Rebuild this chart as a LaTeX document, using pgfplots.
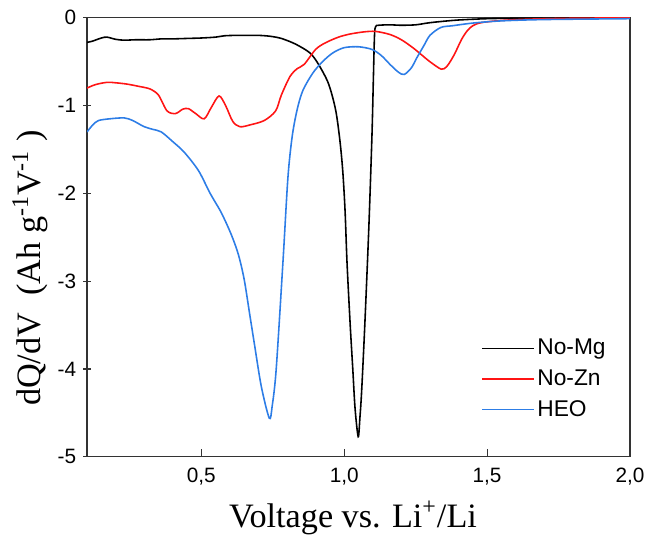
\documentclass[border=0pt]{standalone}
\usepackage{fontspec}
\setmainfont{Liberation Serif}
\newfontfamily\arialfont{Liberation Sans}
\usepackage{pgfplots}
\pgfplotsset{compat=1.18}
\definecolor{heoblue}{RGB}{45,125,230}
\definecolor{noznred}{RGB}{255,20,20}
\begin{document}
\begin{tikzpicture}
\begin{axis}[
  name=ax,
  width=274.5pt, height=222pt, scale only axis,
  xmin=0.1, xmax=2.0, ymin=-5, ymax=0,
  xtick={0.5,1.0,1.5,2.0},
  ytick={-5,-4,-3,-2,-1,0},
  tick pos=left,
  /pgf/number format/assume math mode=true,
  tick label style={font=\arialfont\fontsize{10.5}{12}\selectfont},
  xticklabel style={/pgf/number format/.cd, fixed, fixed zerofill, precision=1, use comma, /tikz/.cd, yshift=-2pt},
  yticklabel style={/pgf/number format/.cd, fixed, precision=0},
  xtick align=inside,
  ytick align=center,
  major tick length=4pt,
  tick style={black!80, line width=0.6pt},
  axis line style={black!80, line width=0.6pt},
  xlabel={Voltage vs. Li\textsuperscript{+}/Li},
  ylabel={dQ/dV\ \ (Ah g\textsuperscript{-1}V\textsuperscript{-1} )},
  label style={font=\fontsize{17.3}{20}\selectfont},
  xlabel style={at={(axis description cs:0.49,-0.16)}, anchor=base},
  ylabel style={at={(axis description cs:-0.0856,0.43)}, anchor=base},
  legend style={at={(axis description cs:0.722,0.28)}, anchor=north west, draw=none,
    font=\arialfont\fontsize{11.5}{13}\selectfont, inner sep=1pt, row sep=3pt,
    nodes={inner sep=1.5pt}},
  legend cell align=left,
  legend image code/.code={\draw[#1] (0pt,0pt) -- (26pt,0pt);},
  /tikz/every odd column/.append style={xshift=-1pt},
  /tikz/every even column/.append style={xshift=3pt},
  every axis plot/.append style={line width=0.8pt, smooth},
]
\addplot[black] coordinates {
(0.10,-0.28) (0.12,-0.265) (0.15,-0.23) (0.17,-0.22) (0.20,-0.245) (0.23,-0.255)
(0.27,-0.25) (0.32,-0.25) (0.36,-0.24) (0.40,-0.24) (0.45,-0.235) (0.50,-0.23)
(0.55,-0.22) (0.58,-0.205) (0.62,-0.20) (0.66,-0.20) (0.70,-0.20) (0.74,-0.21)
(0.78,-0.235) (0.83,-0.30) (0.88,-0.40) (0.91,-0.53) (0.945,-0.75) (0.97,-1.05)
(0.985,-1.40) (0.995,-1.75) (1.003,-2.2) (1.01,-2.8) (1.021,-3.5) (1.03,-4.0)
(1.038,-4.45) (1.049,-4.77) (1.055,-4.55) (1.061,-4.25) (1.072,-3.5) (1.086,-2.4)
(1.097,-1.35) (1.102,-0.7) (1.106,-0.2) (1.110,-0.10) (1.12,-0.085) (1.16,-0.08)
(1.20,-0.085) (1.25,-0.08) (1.29,-0.06) (1.33,-0.045) (1.40,-0.025) (1.50,-0.01)
(1.60,-0.005) (1.80,-0.002) (2.00,0)
};
\addlegendentry{No-Mg}
\addplot[noznred] coordinates {
(0.10,-0.80) (0.13,-0.76) (0.17,-0.735) (0.20,-0.74) (0.24,-0.755) (0.28,-0.78)
(0.32,-0.81) (0.35,-0.88) (0.38,-1.06) (0.41,-1.09) (0.435,-1.04) (0.455,-1.035)
(0.48,-1.09) (0.51,-1.15) (0.535,-1.02) (0.562,-0.89) (0.585,-1.0) (0.61,-1.18)
(0.635,-1.24) (0.67,-1.22) (0.72,-1.17) (0.76,-1.06) (0.78,-0.88) (0.81,-0.67)
(0.835,-0.58) (0.86,-0.53) (0.90,-0.36) (0.934,-0.285) (0.98,-0.22) (1.02,-0.185)
(1.07,-0.16) (1.11,-0.155) (1.16,-0.19) (1.20,-0.25) (1.24,-0.34) (1.27,-0.42)
(1.30,-0.50) (1.34,-0.585) (1.36,-0.55) (1.385,-0.42) (1.41,-0.25) (1.43,-0.15)
(1.45,-0.09) (1.48,-0.055) (1.55,-0.03) (1.65,-0.015) (1.80,-0.005) (2.00,0)
};
\addlegendentry{No-Zn}
\addplot[heoblue] coordinates {
(0.10,-1.30) (0.12,-1.22) (0.14,-1.17) (0.18,-1.15) (0.23,-1.14) (0.26,-1.17)
(0.30,-1.24) (0.33,-1.27) (0.36,-1.30) (0.40,-1.41) (0.44,-1.53) (0.49,-1.74)
(0.531,-2.00) (0.57,-2.22) (0.605,-2.47) (0.63,-2.70) (0.65,-2.98) (0.669,-3.37)
(0.686,-3.72) (0.71,-4.20) (0.738,-4.56) (0.748,-4.42) (0.762,-4.0) (0.786,-2.76)
(0.803,-1.82) (0.818,-1.35) (0.835,-1.05) (0.855,-0.83) (0.89,-0.63) (0.924,-0.50)
(0.96,-0.40) (1.00,-0.34) (1.05,-0.33) (1.097,-0.36) (1.13,-0.43) (1.16,-0.53)
(1.19,-0.62) (1.21,-0.645) (1.235,-0.57) (1.255,-0.45) (1.28,-0.31) (1.30,-0.20)
(1.338,-0.11) (1.38,-0.09) (1.45,-0.06) (1.55,-0.035) (1.70,-0.02) (2.00,-0.01)
};
\addlegendentry{HEO}
\end{axis}
\path (ax.south west) ++(-44pt,-38.5pt);
\path (ax.north east) ++(7pt,9pt);
\end{tikzpicture}
\end{document}
